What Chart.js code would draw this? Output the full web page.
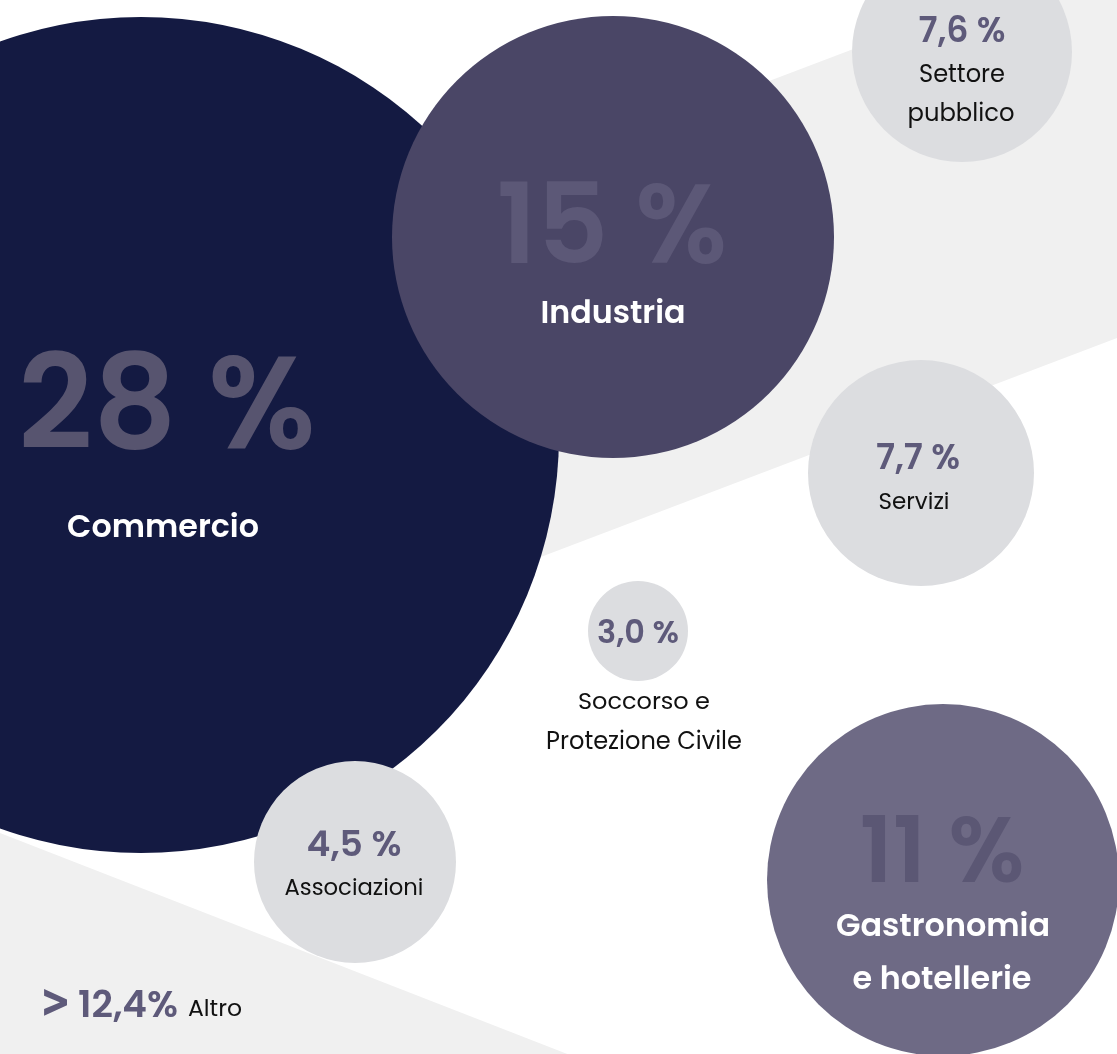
<!DOCTYPE html>
<html>
<head>
<meta charset="utf-8">
<script src="https://cdn.jsdelivr.net/npm/chart.js@4.4.1/dist/chart.umd.min.js"></script>
<style>
  html, body { margin: 0; padding: 0; background: #ffffff; }
  #wrap { position: relative; width: 1117px; height: 1054px; }
</style>
</head>
<body>
<div id="wrap"><canvas id="c"></canvas></div>
<script>
// ---- data ----
const sectors = ['Commercio', 'Industria', 'Gastronomia\ne hotellerie', 'Settore\npubblico', 'Servizi', 'Soccorso e\nProtezione Civile', 'Associazioni'];
const shareLabels = ['28 %', '15 %', '11 %', '7,6 %', '7,7 %', '3,0 %', '4,5 %'];
const shareValues = [28, 15, 11, 7.6, 7.7, 3.0, 4.5];
const bubbleX = [141, 613, 943, 962, 921, 638, 355];
const bubbleY = [435, 237, 880, 52, 473, 631, 862];
const bubbleR = [418, 221, 176, 110, 113, 50, 101];
const otherLabel = 'Altro';
const otherPrefix = '>';
const otherShareLabel = '12,4%';

// ---- styles ----
const FONT = 'Poppins, Inter, "Noto Sans", sans-serif';
const bubbleColors = ['#141a42', '#4a4666', '#6e6a85', '#dcdde0', '#dcdde0', '#dcdde0', '#dcdde0'];
const textStyles = [
  { pct: { dx: 26, base: 13, w: 298, weight: 600, color: '#57546f' },
    lines: [{ dx: 22, base: 102, w: 192, weight: 600, color: '#ffffff' }] },
  { pct: { dx: -1, base: 26, w: 231, weight: 600, color: '#5c5877' },
    lines: [{ dx: 0, base: 86, w: 145, weight: 600, color: '#ffffff' }] },
  { pct: { dx: -1, base: 2, w: 165, weight: 600, color: '#5b5774' },
    lines: [{ dx: 0, base: 56, w: 214, weight: 600, color: '#ffffff' },
            { dx: -1, base: 109, w: 179, weight: 600, color: '#ffffff' }] },
  { pct: { dx: 0, base: -10, w: 87, weight: 600, color: '#5e5a7a' },
    lines: [{ dx: 0, base: 30, w: 86, weight: 400, color: '#111111' },
            { dx: -1, base: 69, w: 107, weight: 400, color: '#111111' }] },
  { pct: { dx: -3, base: -4, w: 84, weight: 600, color: '#5e5a7a' },
    lines: [{ dx: -7, base: 36, w: 71, weight: 400, color: '#111111' }] },
  { pct: { dx: 0, base: 12, w: 82, weight: 600, color: '#5e5a7a' },
    lines: [{ dx: 6, base: 78, w: 132, weight: 400, color: '#111111' },
            { dx: 6, base: 118, w: 196, weight: 400, color: '#111111' }] },
  { pct: { dx: -1, base: -6, w: 95, weight: 600, color: '#5e5a7a' },
    lines: [{ dx: -1, base: 33, w: 139, weight: 400, color: '#111111' }] }
];
const bands = [
  [[300, 259], [1117, -51], [1117, 338], [300, 648.5]],
  [[0, 833], [593, 1064], [0, 1064]]
];

function fitFont(ctx, text, weight, targetW) {
  ctx.font = weight + ' 100px ' + FONT;
  const m = ctx.measureText(text).width;
  const size = 100 * targetW / m;
  ctx.font = weight + ' ' + size.toFixed(2) + 'px ' + FONT;
}

// draw text scaled so that its ink is w wide and reference glyphs (refText) are h tall; left at x, baseline yb
function drawBox(ctx, text, refText, font, x, yb, w, h) {
  ctx.save();
  ctx.font = font;
  ctx.textAlign = 'left';
  ctx.textBaseline = 'alphabetic';
  const m = ctx.measureText(text);
  const r = ctx.measureText(refText);
  const inkW = m.actualBoundingBoxRight + m.actualBoundingBoxLeft;
  const inkH = r.actualBoundingBoxAscent + r.actualBoundingBoxDescent;
  const sy = h / inkH;
  const sx = w ? w / inkW : sy;
  ctx.translate(x, yb);
  ctx.scale(sx, sy);
  ctx.fillText(text, m.actualBoundingBoxLeft, -r.actualBoundingBoxDescent);
  ctx.restore();
}

const backgroundBands = {
  id: 'backgroundBands',
  beforeDatasetsDraw(chart) {
    const { ctx, scales } = chart;
    ctx.save();
    ctx.fillStyle = '#f0f0f0';
    bands.forEach(poly => {
      ctx.beginPath();
      poly.forEach((p, i) => {
        const px = scales.x.getPixelForValue(p[0]);
        const py = scales.y.getPixelForValue(p[1]);
        if (i === 0) ctx.moveTo(px, py); else ctx.lineTo(px, py);
      });
      ctx.closePath();
      ctx.fill();
    });
    ctx.restore();
  }
};

const bubbleText = {
  id: 'bubbleText',
  afterDatasetsDraw(chart) {
    const { ctx } = chart;
    const meta = chart.getDatasetMeta(0);
    ctx.save();
    ctx.textAlign = 'center';
    ctx.textBaseline = 'alphabetic';
    meta.data.forEach((el, i) => {
      const st = textStyles[i];
      const cx = el.x, cy = el.y;
      fitFont(ctx, shareLabels[i], st.pct.weight, st.pct.w);
      ctx.fillStyle = st.pct.color;
      ctx.fillText(shareLabels[i], cx + st.pct.dx, cy + st.pct.base);
      const lines = sectors[i].split('\n');
      lines.forEach((ln, j) => {
        const ls = st.lines[j];
        fitFont(ctx, ln, ls.weight, ls.w);
        ctx.fillStyle = ls.color;
        ctx.fillText(ln, cx + ls.dx, cy + ls.base);
      });
    });
    // "Altro" note
    const sx = chart.scales.x, sy = chart.scales.y;
    ctx.fillStyle = '#5e5a7a';
    drawBox(ctx, otherPrefix, otherPrefix, '700 100px Inter, sans-serif', sx.getPixelForValue(44), sy.getPixelForValue(1016), 23, 27);
    drawBox(ctx, otherShareLabel, '12', '600 100px ' + FONT, sx.getPixelForValue(79), sy.getPixelForValue(1017), 98, 28);
    ctx.fillStyle = '#111111';
    ctx.textAlign = 'left';
    fitFont(ctx, otherLabel, 400, 54);
    ctx.fillText(otherLabel, sx.getPixelForValue(188), sy.getPixelForValue(1016));
    ctx.restore();
  }
};

new Chart(document.getElementById('c'), {
  type: 'bubble',
  data: {
    datasets: [{
      label: 'Settori',
      data: bubbleX.map((x, i) => ({ x: x, y: bubbleY[i], r: bubbleR[i], v: shareValues[i] })),
      backgroundColor: bubbleColors,
      hoverBackgroundColor: bubbleColors,
      borderWidth: 0,
      hoverBorderWidth: 0,
      clip: false
    }]
  },
  options: {
    responsive: true,
    maintainAspectRatio: false,
    animation: false,
    layout: { padding: 0, autoPadding: false },
    events: [],
    plugins: { legend: { display: false }, tooltip: { enabled: false } },
    scales: {
      x: { type: 'linear', min: 0, max: 1117, display: false },
      y: { type: 'linear', min: 0, max: 1054, reverse: true, display: false }
    }
  },
  plugins: [backgroundBands, bubbleText]
});
</script>
</body>
</html>
